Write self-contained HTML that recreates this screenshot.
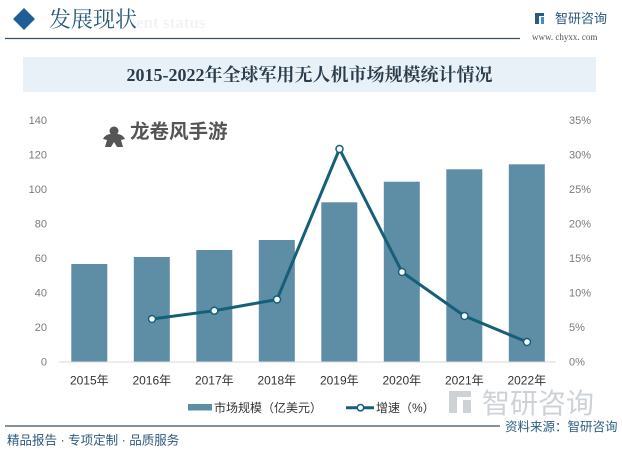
<!DOCTYPE html>
<html><head><meta charset="utf-8">
<style>
html,body{margin:0;padding:0;background:#fff;}
body{width:622px;height:450px;overflow:hidden;position:relative;}
svg{position:absolute;left:0;top:0;}
</style></head>
<body>
<svg width="622" height="450" viewBox="0 0 622 450" xmlns="http://www.w3.org/2000/svg">
  <!-- header -->
  <polygon points="24,8 35,19 24,30 13,19" fill="#1f5f96"/>
  <text x="136" y="28" font-family="Liberation Serif, serif" font-size="17" font-weight="bold" fill="#f1f3f5">ent status</text>
  <text x="49" y="27" font-family="Liberation Serif, 'Noto Serif CJK SC', serif" font-size="22" fill="#2a5a7c">发展现状</text>
  <line x1="5" y1="38.5" x2="520" y2="38.5" stroke="#3a5060" stroke-width="1.3"/>
  <!-- logo -->
  <rect x="535" y="13" width="4" height="11" fill="#2a5a7c"/>
  <rect x="535" y="13" width="9" height="3" fill="#2a5a7c"/>
  <rect x="541" y="17" width="3" height="7" fill="#3a8fd0"/>
  <text x="555" y="23" font-family="Liberation Sans, 'Noto Sans CJK SC', sans-serif" font-size="13" fill="#2a5a7c">智研咨询</text>
  <text x="532" y="40" font-family="Liberation Serif, serif" font-size="9" fill="#555">www. chyxx. com</text>
  <!-- title band -->
  <rect x="23" y="57" width="573" height="35" fill="#e7f1f7"/>
  <text x="309.5" y="81" text-anchor="middle" font-family="Liberation Serif, 'Noto Serif CJK SC', serif" font-size="18" font-weight="bold" fill="#2b3d4c">2015-2022年全球军用无人机市场规模统计情况</text>

  <!-- watermark game -->
  <g fill="#555">
    <circle cx="114" cy="131" r="4.5"/>
    <path d="M103,139 Q106,133 114,134 Q122,133 125,139 L121,140 L123,147 L117,147 L114,142 L111,147 L105,147 L107,140 Z"/>
  </g>
  <text x="130" y="138" font-family="Liberation Sans, 'Noto Sans CJK SC', sans-serif" font-size="19.5" font-weight="bold" fill="#555">龙卷风手游</text>

  <!-- axis labels left -->
  <g font-family="Liberation Sans, sans-serif" font-size="11" fill="#7a7a7a" text-anchor="end">
    <text x="47" y="365.5">0</text>
    <text x="47" y="331">20</text>
    <text x="47" y="296.5">40</text>
    <text x="47" y="262">60</text>
    <text x="47" y="227.5">80</text>
    <text x="47" y="193">100</text>
    <text x="47" y="158.5">120</text>
    <text x="47" y="124">140</text>
  </g>
  <g font-family="Liberation Sans, sans-serif" font-size="11" fill="#7a7a7a" text-anchor="start">
    <text x="569" y="365.5">0%</text>
    <text x="569" y="331">5%</text>
    <text x="569" y="296.5">10%</text>
    <text x="569" y="262">15%</text>
    <text x="569" y="227.5">20%</text>
    <text x="569" y="193">25%</text>
    <text x="569" y="158.5">30%</text>
    <text x="569" y="124">35%</text>
  </g>

  <!-- bars -->
  <g fill="#5e8ea6">
    <rect x="71.3" y="264" width="36" height="97.7"/>
    <rect x="133.8" y="257" width="36" height="104.7"/>
    <rect x="196.3" y="250" width="36" height="111.7"/>
    <rect x="258.8" y="240" width="36" height="121.7"/>
    <rect x="321.3" y="202.3" width="36" height="159.4"/>
    <rect x="383.8" y="181.7" width="36" height="180"/>
    <rect x="446.3" y="169.3" width="36" height="192.4"/>
    <rect x="508.8" y="164.3" width="36" height="197.4"/>
  </g>
  <line x1="59" y1="362" x2="556" y2="362" stroke="#d9d9d9" stroke-width="1"/>

  <!-- line -->
  <polyline points="152,319 214.3,310.7 277,299.5 339.5,149 402,272 464.5,316 527,342" fill="none" stroke="#155f78" stroke-width="3" stroke-linejoin="round"/>
  <g fill="#fff" stroke="#155f78" stroke-width="1.5">
    <circle cx="152" cy="319" r="3.5"/>
    <circle cx="214.3" cy="310.7" r="3.5"/>
    <circle cx="277" cy="299.5" r="3.5"/>
    <circle cx="339.5" cy="149" r="3.5"/>
    <circle cx="402" cy="272" r="3.5"/>
    <circle cx="464.5" cy="316" r="3.5"/>
    <circle cx="527" cy="342" r="3.5"/>
  </g>

  <!-- x labels -->
  <g font-family="Liberation Sans, 'Noto Sans CJK SC', sans-serif" font-size="12" fill="#333" text-anchor="middle">
    <text x="89.3" y="384.5">2015年</text>
    <text x="151.8" y="384.5">2016年</text>
    <text x="214.3" y="384.5">2017年</text>
    <text x="276.8" y="384.5">2018年</text>
    <text x="339.3" y="384.5">2019年</text>
    <text x="401.8" y="384.5">2020年</text>
    <text x="464.3" y="384.5">2021年</text>
    <text x="526.8" y="384.5">2022年</text>
  </g>

  <!-- big watermark bottom right -->
  <g fill="#cdd2d7">
    <rect x="449" y="391" width="8" height="22"/>
    <rect x="449" y="391" width="22" height="6"/>
    <rect x="463" y="400" width="8" height="13"/>
  </g>
  <text x="482" y="413" font-family="Liberation Sans, 'Noto Sans CJK SC', sans-serif" font-size="28" fill="#cdd2d7">智研咨询</text>

  <!-- legend -->
  <rect x="188" y="404" width="24" height="6.5" fill="#5e8ea6"/>
  <text x="214" y="412" font-family="Liberation Sans, 'Noto Sans CJK SC', sans-serif" font-size="12" fill="#333">市场规模（亿美元）</text>
  <line x1="346" y1="407.7" x2="374" y2="407.7" stroke="#155f78" stroke-width="3"/>
  <circle cx="360.5" cy="407.7" r="3.2" fill="#fff" stroke="#155f78" stroke-width="1.5"/>
  <text x="376" y="412" font-family="Liberation Sans, 'Noto Sans CJK SC', sans-serif" font-size="12" fill="#333">增速（%）</text>

  <!-- footer -->
  <line x1="5" y1="426" x2="500" y2="426" stroke="#3a5060" stroke-width="1.3"/>
  <text x="505" y="431" font-family="Liberation Sans, 'Noto Sans CJK SC', sans-serif" font-size="12.5" fill="#2a5f80">资料来源：智研咨询</text>
  <text x="7" y="444.5" font-family="Liberation Sans, 'Noto Sans CJK SC', sans-serif" font-size="12.5" fill="#2a5a7c">精品报告 · 专项定制 · 品质服务</text>
</svg>
</body></html>
